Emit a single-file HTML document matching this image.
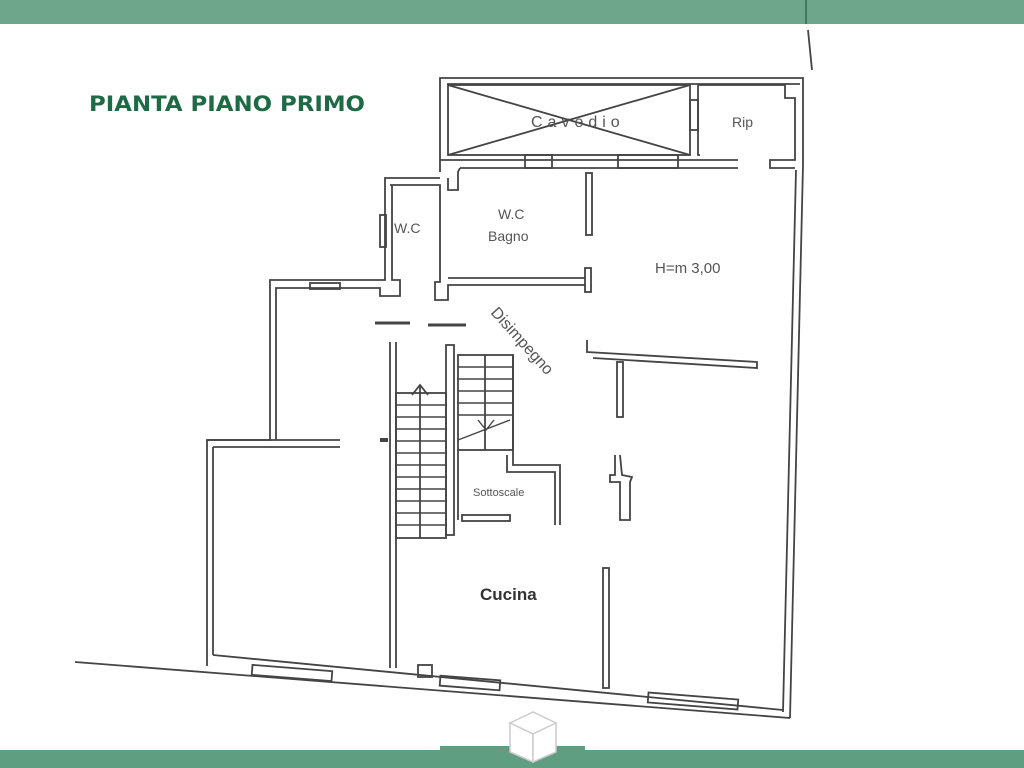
<!DOCTYPE html>
<html><head><meta charset="utf-8"><style>
html,body{margin:0;padding:0;background:#fff;width:1024px;height:768px;overflow:hidden}
svg{display:block}
</style></head><body>
<svg width="1024" height="768" viewBox="0 0 1024 768" xmlns="http://www.w3.org/2000/svg" font-family="Liberation Sans, sans-serif">
<rect x="0" y="0" width="1024" height="24" fill="#6ea68a"/>
<line x1="806" y1="0" x2="806" y2="24" stroke="#3f7a5c" stroke-width="2"/>
<rect x="0" y="750" width="1024" height="18" fill="#5f9e80"/>
<rect x="440" y="746" width="145" height="6" fill="#5f9e80"/>
<text x="89" y="111" font-family="DejaVu Sans, sans-serif" font-size="21" font-weight="bold" fill="#1d6a45" textLength="276" lengthAdjust="spacingAndGlyphs">PIANTA  PIANO PRIMO</text>
<g fill="none" stroke="#444" stroke-width="1.8">
<line x1="808" y1="30" x2="812" y2="70"/>
<polyline points="440,172 440,78 803,78 803,165"/>
<line x1="447" y1="84" x2="800" y2="84"/>
<line x1="803" y1="165" x2="790" y2="718"/>
<line x1="796" y1="170" x2="783" y2="712"/>
<rect x="448" y="85" width="242" height="70"/>
<line x1="448" y1="85" x2="690" y2="155"/>
<line x1="448" y1="155" x2="690" y2="85"/>
<line x1="440" y1="160" x2="738" y2="160"/>
<line x1="460" y1="168" x2="738" y2="168"/>
<rect x="525" y="155" width="27" height="13"/>
<rect x="618" y="155" width="60" height="13"/>
<rect x="690" y="100" width="8" height="30"/>
<polyline points="698,85 698,155 700,155"/>
<polyline points="698,85 785,85 785,98 795,98 795,160 770,160 770,168 795,168"/>
<polyline points="440,178 385,178 385,280 270,280 270,440 207,440 207,658"/>
<polyline points="448,178 448,190 458,190 458,172 460,168"/>
<polyline points="390,185 440,185 440,282 435,282 435,300 448,300 448,285 585,285"/>
<line x1="448" y1="278" x2="585" y2="278"/>
<rect x="585" y="268" width="6" height="24"/>
<rect x="586" y="173" width="6" height="62"/>
<polyline points="392,185 392,280 400,280 400,296 380,296 380,288 276,288 276,440"/>
<rect x="380" y="215" width="6" height="32"/>
<rect x="310" y="283" width="30" height="6"/>
<polyline points="213,447 340,447"/>
<line x1="207" y1="440" x2="340" y2="440"/>
<line x1="213" y1="447" x2="213" y2="655"/>
<line x1="375" y1="323" x2="410" y2="323" stroke-width="3"/>
<line x1="428" y1="325" x2="466" y2="325" stroke-width="3"/>
<line x1="390" y1="342" x2="390" y2="668"/>
<line x1="396" y1="342" x2="396" y2="668"/>
<rect x="446" y="345" width="8" height="190"/>
<rect x="396" y="393" width="50" height="145"/>
<line x1="420" y1="385" x2="420" y2="538"/>
<polyline points="412,395 420,385 428,395"/>
<rect x="458" y="355" width="55" height="95"/>
<line x1="485" y1="355" x2="485" y2="450"/>
<polyline points="513,355 513,465 560,465 560,525"/>
<polyline points="507,455 507,472 555,472 555,525"/>
<line x1="458" y1="450" x2="458" y2="520"/>
<rect x="462" y="515" width="48" height="6"/>
<line x1="380" y1="440" x2="388" y2="440" stroke-width="4"/>
<polyline points="587,340 587,352 757,362 757,368 593,358"/>
<rect x="617" y="362" width="6" height="55"/>
<polyline points="615,455 615,475 610,475 610,482 620,482 620,520 630,520 630,482 632,477 622,475 620,455"/>
<rect x="603" y="568" width="6" height="120"/>
<line x1="75" y1="662" x2="790" y2="718"/>
<line x1="213" y1="655" x2="783" y2="710"/>
<line x1="207" y1="658" x2="207" y2="666"/>
<rect x="252" y="668" width="80" height="10" transform="rotate(4.5 292 673)"/>
<rect x="440" y="678" width="60" height="10" transform="rotate(4.5 470 683)"/>
<rect x="648" y="696" width="90" height="10" transform="rotate(4.5 693 701)"/>
<rect x="418" y="665" width="14" height="12"/>
</g>
<g stroke="#444" stroke-width="1.4">
<line x1="396" y1="405" x2="446" y2="405"/><line x1="396" y1="417" x2="446" y2="417"/>
<line x1="396" y1="429" x2="446" y2="429"/><line x1="396" y1="441" x2="446" y2="441"/>
<line x1="396" y1="453" x2="446" y2="453"/><line x1="396" y1="465" x2="446" y2="465"/>
<line x1="396" y1="477" x2="446" y2="477"/><line x1="396" y1="489" x2="446" y2="489"/>
<line x1="396" y1="501" x2="446" y2="501"/><line x1="396" y1="513" x2="446" y2="513"/>
<line x1="396" y1="525" x2="446" y2="525"/>
<line x1="458" y1="367" x2="513" y2="367"/><line x1="458" y1="379" x2="513" y2="379"/>
<line x1="458" y1="391" x2="513" y2="391"/><line x1="458" y1="403" x2="513" y2="403"/>
<line x1="458" y1="415" x2="513" y2="415"/>
<line x1="458" y1="440" x2="510" y2="420"/>
<polyline points="478,420 486,430 494,420" fill="none"/>
</g>
<g fill="#555" font-size="14">
<text x="531" y="127" font-size="16" letter-spacing="5">Cavedio</text>
<text x="732" y="127">Rip</text>
<text x="394" y="233">W.C</text>
<text x="498" y="219">W.C</text>
<text x="488" y="241">Bagno</text>
<text x="655" y="273" font-size="15">H=m 3,00</text>
<text x="490" y="313" font-size="16" transform="rotate(48 490 313)">Disimpegno</text>
<text x="473" y="496" font-size="11">Sottoscale</text>
<text x="480" y="600" font-size="17" font-weight="bold" fill="#333">Cucina</text>
</g>
<g fill="#fff" stroke="#ccc" stroke-width="1.5">
<polygon points="510,723 533,712 556,723 533,734"/>
<polygon points="510,723 533,734 533,762 510,752"/>
<polygon points="556,723 533,734 533,762 556,752"/>
</g>
</svg>
</body></html>
